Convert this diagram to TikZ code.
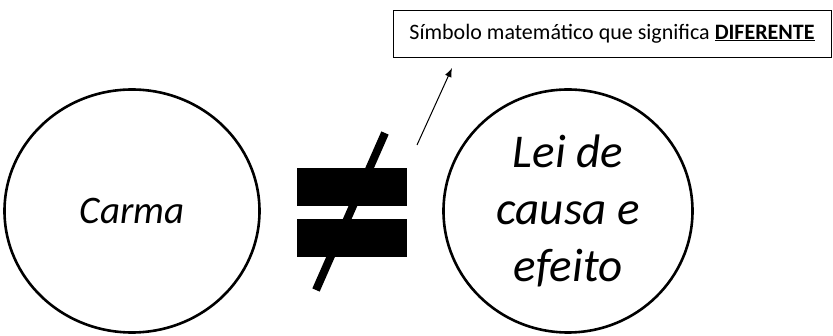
\documentclass[tikz,border=0pt]{standalone}
\usepackage{fontspec}
\setmainfont{Carlito}
\usetikzlibrary{arrows.meta,positioning,shapes.geometric}

\begin{document}
\begin{tikzpicture}[x=1pt,y=-1pt,
  bigcirc/.style={ellipse,draw,line width=2.6pt,minimum height=243pt,inner sep=0pt,align=center},
  bar/.style={fill=black,minimum width=110pt,minimum height=38pt,inner sep=0pt}]
  \useasboundingbox (0,0) rectangle (833,336);
  % the two concepts
  \node[bigcirc,minimum width=255pt,font=\fontsize{39}{46}\selectfont\itshape] (carma) at (132,211) {Carma};
  \node[bigcirc,minimum width=249pt,font=\fontsize{47}{57}\selectfont\itshape] (lei) at (568,211)
    {Lei de\\causa e\\efeito};
  % not-equal sign
  \node[bar] (top) at (352,187) {};
  \node[bar] (bot) at (352,238) {};
  \coordinate (slashlo) at (316,290);
  \coordinate (slashhi) at (385,133);
  \draw[line width=8pt] (slashlo) -- (slashhi);
  % caption box
  \node[draw,line width=0.8pt,minimum width=438pt,minimum height=47pt,
        font=\fontsize{22}{26}\selectfont] (note) at (612,33.5)
    {Símbolo matemático que significa \underline{\textbf{DIFERENTE}}};
  \coordinate (tail) at (417,145);
  \coordinate (tip) at (452,68);
  \draw[-{Latex[length=9pt,width=7pt]},line width=1pt] (tail) -- (tip);
\end{tikzpicture}
\end{document}
